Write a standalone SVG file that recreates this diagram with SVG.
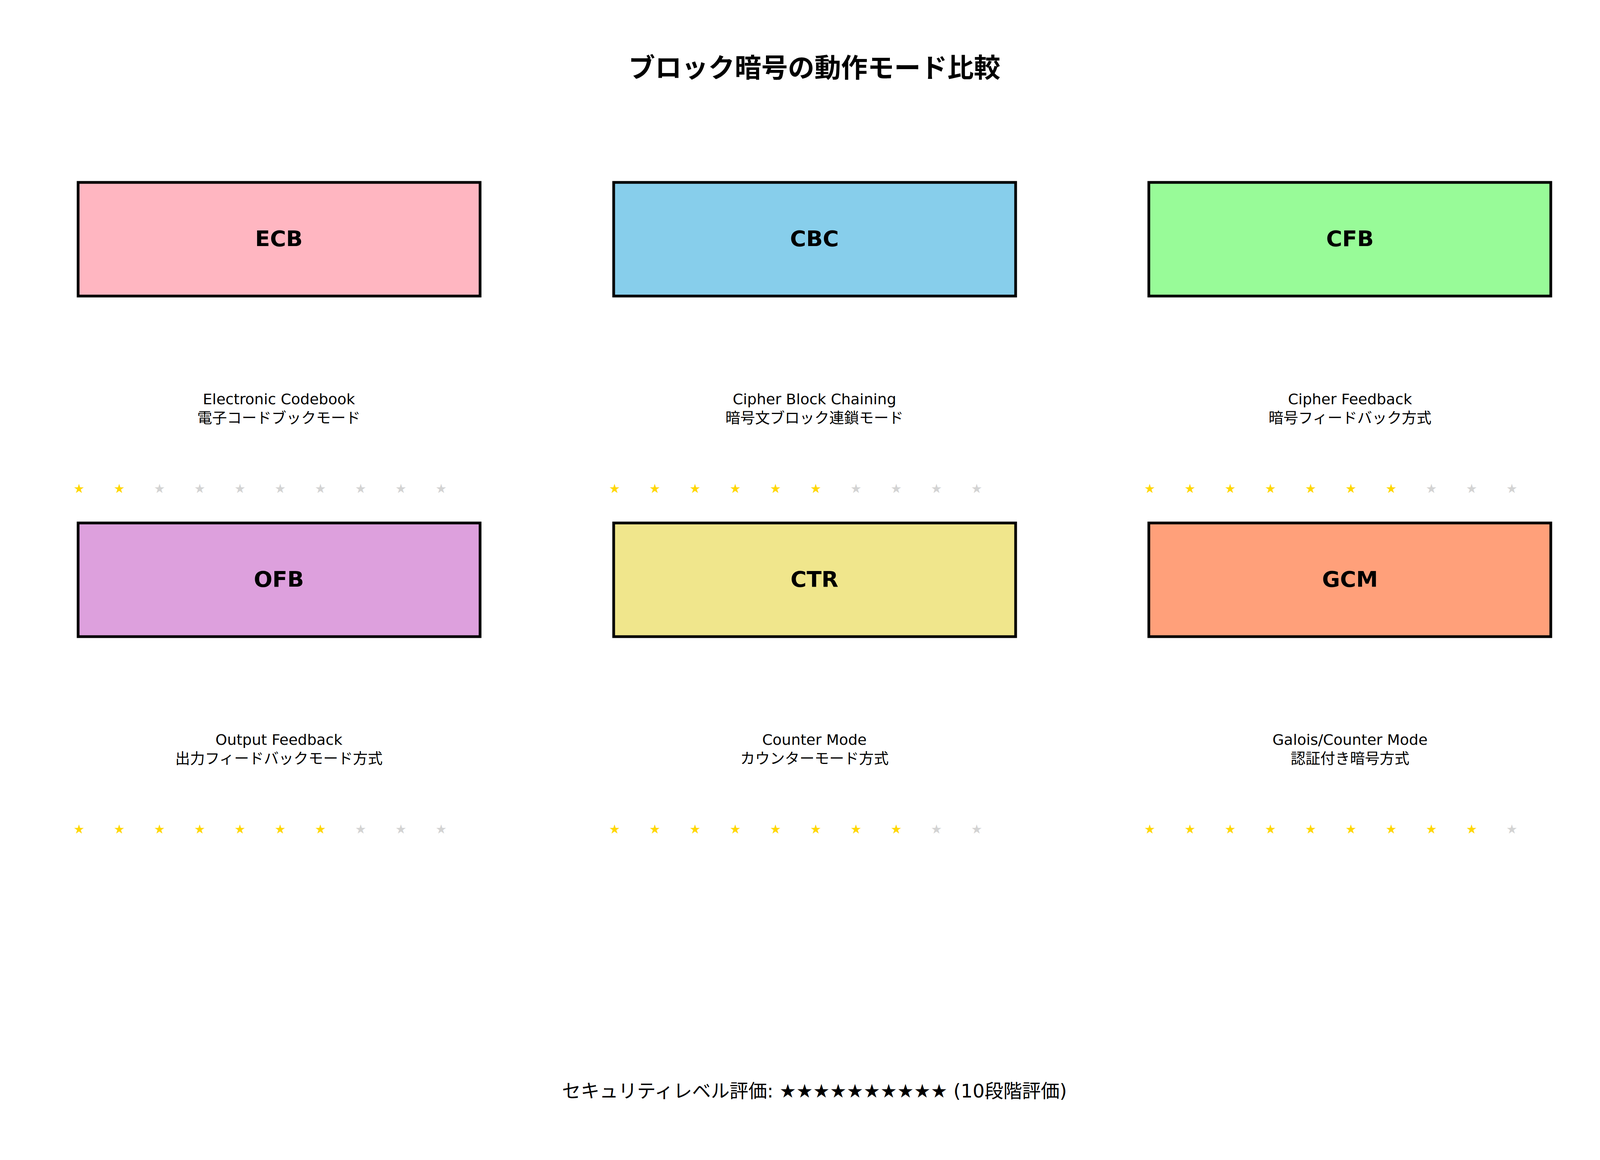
<svg xmlns="http://www.w3.org/2000/svg" width="4170" height="2970" viewBox="0 0 4170 2970">
<style>
text{font-family:"DejaVu Sans","Noto Sans CJK JP",sans-serif;fill:#000}
.box{stroke:#000;stroke-width:7}
.lbl{font-size:56px;font-weight:bold;text-anchor:middle;dominant-baseline:central}
.sub{font-size:38px;text-anchor:middle}
.st{font-size:32px}
.on{fill:#FFD700}.off{fill:#D3D3D3}
</style>
<rect width="4170" height="2970" fill="#fff"/>
<text x="2085" y="198" font-size="68" font-weight="bold" text-anchor="middle">ブロック暗号の動作モード比較</text>
<g id="connectors"></g>
<g id="ECB">
<rect class="box" x="200" y="467" width="1029" height="291" fill="#FFB6C1"/>
<text class="lbl" x="714" y="610">ECB</text>
<text class="sub" x="714" y="1035">Electronic Codebook</text>
<text class="sub" x="714" y="1083">電子コードブックモード</text>
<text class="st" y="1262"><tspan class="on" x="188">★</tspan><tspan class="on" x="291">★</tspan><tspan class="off" x="394">★</tspan><tspan class="off" x="497">★</tspan><tspan class="off" x="600">★</tspan><tspan class="off" x="703">★</tspan><tspan class="off" x="806">★</tspan><tspan class="off" x="909">★</tspan><tspan class="off" x="1012">★</tspan><tspan class="off" x="1115">★</tspan></text>
</g>
<g id="CBC">
<rect class="box" x="1571" y="467" width="1029" height="291" fill="#87CEEB"/>
<text class="lbl" x="2085" y="610">CBC</text>
<text class="sub" x="2085" y="1035">Cipher Block Chaining</text>
<text class="sub" x="2085" y="1083">暗号文ブロック連鎖モード</text>
<text class="st" y="1262"><tspan class="on" x="1559">★</tspan><tspan class="on" x="1662">★</tspan><tspan class="on" x="1765">★</tspan><tspan class="on" x="1868">★</tspan><tspan class="on" x="1971">★</tspan><tspan class="on" x="2074">★</tspan><tspan class="off" x="2177">★</tspan><tspan class="off" x="2280">★</tspan><tspan class="off" x="2383">★</tspan><tspan class="off" x="2486">★</tspan></text>
</g>
<g id="CFB">
<rect class="box" x="2941" y="467" width="1029" height="291" fill="#98FB98"/>
<text class="lbl" x="3456" y="610">CFB</text>
<text class="sub" x="3456" y="1035">Cipher Feedback</text>
<text class="sub" x="3456" y="1083">暗号フィードバック方式</text>
<text class="st" y="1262"><tspan class="on" x="2929">★</tspan><tspan class="on" x="3032">★</tspan><tspan class="on" x="3135">★</tspan><tspan class="on" x="3238">★</tspan><tspan class="on" x="3341">★</tspan><tspan class="on" x="3444">★</tspan><tspan class="on" x="3547">★</tspan><tspan class="off" x="3650">★</tspan><tspan class="off" x="3753">★</tspan><tspan class="off" x="3856">★</tspan></text>
</g>
<g id="OFB">
<rect class="box" x="200" y="1339" width="1029" height="291" fill="#DDA0DD"/>
<text class="lbl" x="714" y="1482">OFB</text>
<text class="sub" x="714" y="1907">Output Feedback</text>
<text class="sub" x="714" y="1955">出力フィードバックモード方式</text>
<text class="st" y="2134"><tspan class="on" x="188">★</tspan><tspan class="on" x="291">★</tspan><tspan class="on" x="394">★</tspan><tspan class="on" x="497">★</tspan><tspan class="on" x="600">★</tspan><tspan class="on" x="703">★</tspan><tspan class="on" x="806">★</tspan><tspan class="off" x="909">★</tspan><tspan class="off" x="1012">★</tspan><tspan class="off" x="1115">★</tspan></text>
</g>
<g id="CTR">
<rect class="box" x="1571" y="1339" width="1029" height="291" fill="#F0E68C"/>
<text class="lbl" x="2085" y="1482">CTR</text>
<text class="sub" x="2085" y="1907">Counter Mode</text>
<text class="sub" x="2085" y="1955">カウンターモード方式</text>
<text class="st" y="2134"><tspan class="on" x="1559">★</tspan><tspan class="on" x="1662">★</tspan><tspan class="on" x="1765">★</tspan><tspan class="on" x="1868">★</tspan><tspan class="on" x="1971">★</tspan><tspan class="on" x="2074">★</tspan><tspan class="on" x="2177">★</tspan><tspan class="on" x="2280">★</tspan><tspan class="off" x="2383">★</tspan><tspan class="off" x="2486">★</tspan></text>
</g>
<g id="GCM">
<rect class="box" x="2941" y="1339" width="1029" height="291" fill="#FFA07A"/>
<text class="lbl" x="3456" y="1482">GCM</text>
<text class="sub" x="3456" y="1907">Galois/Counter Mode</text>
<text class="sub" x="3456" y="1955">認証付き暗号方式</text>
<text class="st" y="2134"><tspan class="on" x="2929">★</tspan><tspan class="on" x="3032">★</tspan><tspan class="on" x="3135">★</tspan><tspan class="on" x="3238">★</tspan><tspan class="on" x="3341">★</tspan><tspan class="on" x="3444">★</tspan><tspan class="on" x="3547">★</tspan><tspan class="on" x="3650">★</tspan><tspan class="on" x="3753">★</tspan><tspan class="off" x="3856">★</tspan></text>
</g>
<text x="2085" y="2810" font-size="48" text-anchor="middle">セキュリティレベル評価: ★★★★★★★★★★ (10段階評価)</text>
</svg>
